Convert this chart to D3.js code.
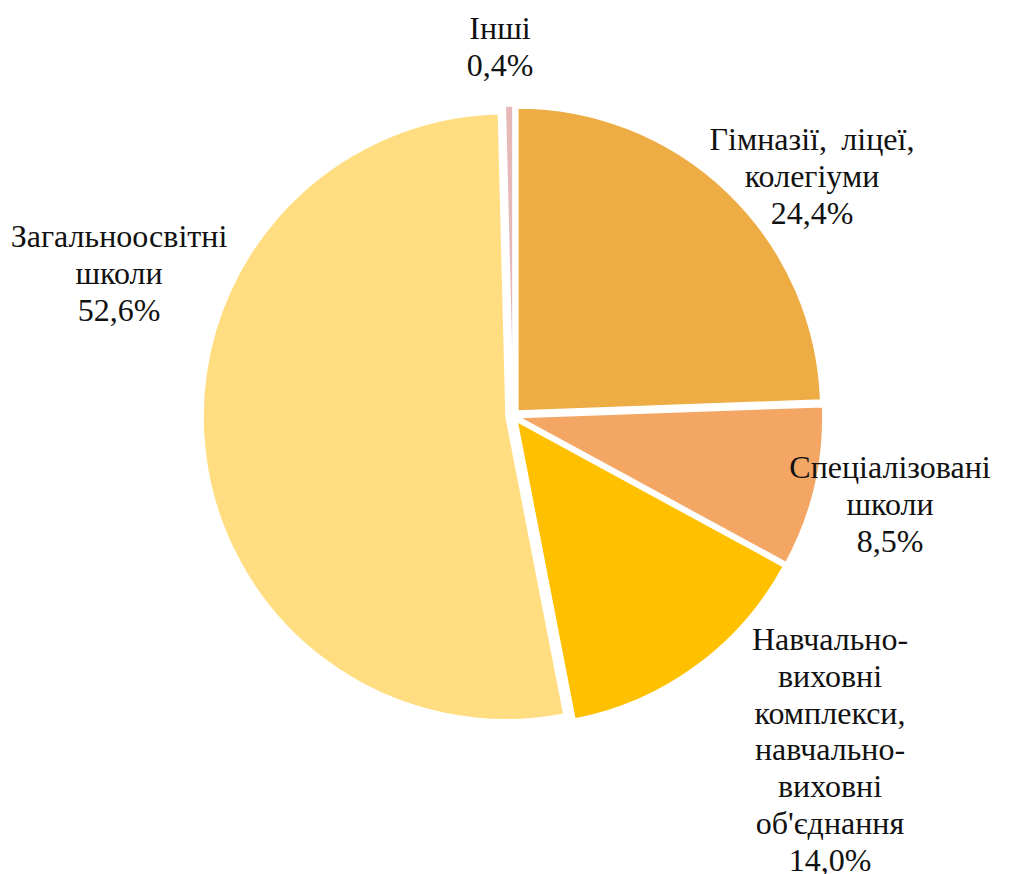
<!DOCTYPE html>
<html>
<head>
<meta charset="utf-8">
<script src="https://cdn.jsdelivr.net/npm/d3@7"></script>
<style>
  body { margin: 0; background: #fff; }
  text { fill: #111; }
</style>
</head>
<body>
<script>
// slice data, clockwise from 12 o'clock
let categories = [
    ["Гімназії,\u2009 ліцеї,", "колегіуми"],
    ["Спеціалізовані", "школи"],
    ["Навчально-", "виховні", "комплекси,", "навчально-", "виховні", "об'єднання"],
    ["Загальноосвітні", "школи"],
    ["Інші"]
]
let shares = [24.4, 8.5, 14.0, 52.6, 0.4]
let shareLabels = ["24,4%", "8,5%", "14,0%", "52,6%", "0,4%"]
let colors = ["#eeac44", "#f4a765", "#ffc000", "#ffdd80", "#e6b9b8"]

// where each label block sits (centre x, first baseline y)
let labelPos = [[812, 150], [890, 478], [830, 650], [119, 247], [500, 39]]

let width = 1024,
    height = 874

let cx = 513, cy = 416,
    radius = 303,
    explode = 7

let svg = d3.select("body").append("svg")
    .attr("width", width)
    .attr("height", height)

let pie = d3.pie().sort(null).value(d => d)
let arc = d3.arc().innerRadius(0).outerRadius(radius)

svg.append("g")
    .attr("transform", `translate(${cx},${cy})`)
    .selectAll("path")
    .data(pie(shares))
    .enter()
    .append("path")
    .attr("d", arc)
    .attr("transform", d => {
        let mid = (d.startAngle + d.endAngle) / 2
        return `translate(${Math.sin(mid) * explode},${-Math.cos(mid) * explode})`
    })
    .attr("fill", (d, i) => colors[i])
    .attr("stroke", "#fff")
    .attr("stroke-width", 1.5)

let lineH = 36.8

let labels = svg.append("g")
    .selectAll("text")
    .data(categories)
    .enter()
    .append("text")
    .attr("text-anchor", "middle")
    .attr("font-family", "'Liberation Serif', Tinos, 'Times New Roman', 'DejaVu Serif', 'Noto Serif', serif")
    .attr("font-size", 32)
    .attr("x", (d, i) => labelPos[i][0])
    .attr("y", (d, i) => labelPos[i][1])

labels.each(function(d, i) {
    let t = d3.select(this)
    d.concat([shareLabels[i]]).forEach((line, j) => {
        t.append("tspan")
            .attr("x", labelPos[i][0])
            .attr("dy", j === 0 ? 0 : lineH)
            .text(line)
    })
})
</script>
</body>
</html>
